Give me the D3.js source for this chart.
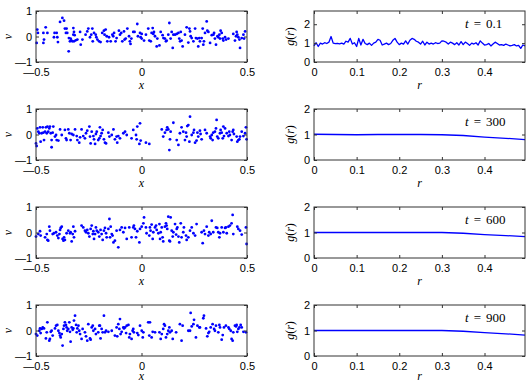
<!DOCTYPE html>
<html>
<head>
<meta charset="utf-8">
<script src="https://cdn.jsdelivr.net/npm/d3@7"></script>
<style>
  body { margin: 0; background: #fff; }
  .tick text { font-family: "Liberation Sans", Arial, sans-serif; font-size: 11px; fill: #000; }
  .tick line { stroke: #333; }
</style>
</head>
<body>
<div id="chart"></div>
<script>
// snapshot times, one row each
const times = ['0.1', '300', '600', '900'];

// tick values
const xTicks = [-0.5, 0, 0.5];
const vTicks = [-1, 0, 1];
const rTicks = [0, 0.1, 0.2, 0.3, 0.4];
const gTicks = [0, 1, 2];
const gMax = [2.7, 2, 2, 2];

// particle positions x and velocities v
const points1 = [
  [-0.494,0.27],[-0.491,0.14],[-0.497,-0.25],[-0.465,0.14],[-0.462,-0.12],[-0.454,0.36],[-0.465,-0.25],[-0.446,0.14],
  [-0.412,0.14],[-0.402,0.14],[-0.415,-0.03],[-0.399,-0.03],[-0.396,-0.22],[-0.386,0.57],[-0.375,0.73],[-0.367,0.62],
  [-0.363,0.31],[-0.355,0.31],[-0.358,0.14],[-0.352,0.14],[-0.344,-0.06],[-0.339,-0.19],[-0.336,-0.08],[-0.333,-0.15],
  [-0.345,-0.58],[-0.323,0.33],[-0.320,0.18],[-0.323,0.07],[-0.317,0.05],[-0.328,-0.19],[-0.320,-0.19],[-0.312,-0.15],
  [-0.304,-0.12],[-0.291,0.18],[-0.288,-0.32],[-0.280,-0.12],[-0.265,0.07],[-0.257,0.20],[-0.252,0.31],[-0.244,-0.03],
  [-0.238,0.07],[-0.233,0.31],[-0.231,-0.19],[-0.225,0.14],[-0.217,0.07],[-0.214,-0.03],[-0.209,-0.12],[-0.201,-0.19],
  [-0.194,-0.22],[-0.186,0.14],[-0.178,0.23],[-0.175,0.07],[-0.170,0.27],[-0.165,0.01],[-0.162,-0.19],[-0.154,-0.03],
  [-0.146,-0.19],[-0.138,0.07],[-0.134,0.01],[-0.130,0.14],[-0.123,-0.19],[-0.118,-0.06],[-0.107,0.23],[-0.102,0.07],
  [-0.096,0.14],[-0.091,-0.19],[-0.083,0.20],[-0.080,-0.12],[-0.075,-0.08],[-0.067,0.31],[-0.059,0.01],[-0.055,-0.19],
  [-0.052,-0.29],[-0.048,-0.08],[-0.039,0.18],[-0.033,0.18],[-0.020,0.49],[-0.017,0.01],[-0.007,0.14],[-0.004,-0.03],
  [0.001,0.10],[0.001,-0.08],[0.012,-0.16],[0.021,0.07],[0.032,0.31],[0.037,-0.16],[0.044,-0.19],[0.048,0.14],
  [0.053,0.33],[0.056,0.10],[0.059,0.18],[0.064,0.01],[0.072,-0.39],[0.075,-0.08],[0.085,-0.35],[0.091,0.18],
  [0.100,0.05],[0.104,-0.06],[0.111,-0.08],[0.116,-0.19],[0.119,-0.16],[0.127,0.07],[0.132,0.53],[0.138,-0.08],
  [0.143,0.18],[0.148,-0.45],[0.151,0.07],[0.159,0.07],[0.167,0.10],[0.175,0.14],[0.179,-0.08],[0.183,-0.19],
  [0.186,0.18],[0.190,-0.16],[0.195,-0.39],[0.206,0.07],[0.214,0.36],[0.222,-0.24],[0.227,0.31],[0.230,0.20],
  [0.233,0.01],[0.238,-0.06],[0.246,-0.19],[0.254,0.31],[0.258,-0.06],[0.265,-0.08],[0.269,-0.39],[0.274,-0.06],
  [0.277,-0.19],[0.285,-0.06],[0.290,0.31],[0.293,-0.32],[0.296,-0.19],[0.301,0.14],[0.309,0.59],[0.312,0.23],
  [0.317,0.18],[0.325,-0.25],[0.333,0.05],[0.341,0.07],[0.344,0.14],[0.348,-0.08],[0.353,-0.32],[0.360,0.01],
  [0.364,-0.03],[0.369,0.07],[0.372,-0.08],[0.375,0.23],[0.380,0.14],[0.385,-0.08],[0.388,-0.16],[0.396,-0.03],
  [0.401,-0.12],[0.412,-0.08],[0.435,0.10],[0.443,-0.16],[0.448,0.01],[0.451,0.18],[0.454,0.07],[0.459,-0.03],
  [0.464,-0.12],[0.467,-0.45],[0.475,-0.06],[0.483,0.07],[0.486,-0.08],[0.491,0.20]
];

const points2 = [
  [-0.500,-0.35],[-0.497,-0.45],[-0.494,0.24],[-0.489,0.11],[-0.484,0.05],[-0.481,0.28],[-0.478,-0.28],[-0.473,0.05],
  [-0.468,0.28],[-0.465,0.07],[-0.462,-0.22],[-0.457,0.11],[-0.453,0.28],[-0.449,0.05],[-0.446,0.31],[-0.442,0.11],
  [-0.437,0.24],[-0.434,0.31],[-0.430,0.05],[-0.426,-0.22],[-0.426,-0.50],[-0.421,0.07],[-0.418,0.31],[-0.410,-0.08],
  [-0.405,-0.02],[-0.402,-0.22],[-0.394,-0.24],[-0.386,0.20],[-0.378,-0.02],[-0.363,0.18],[-0.358,-0.15],[-0.355,-0.22],
  [-0.347,0.20],[-0.342,0.05],[-0.336,-0.22],[-0.331,0.02],[-0.323,-0.02],[-0.315,0.20],[-0.307,-0.06],[-0.304,-0.22],
  [-0.295,-0.32],[-0.291,-0.11],[-0.284,0.20],[-0.276,-0.06],[-0.268,-0.15],[-0.263,0.05],[-0.257,0.15],[-0.247,0.31],
  [-0.244,-0.08],[-0.241,-0.35],[-0.236,0.11],[-0.228,-0.06],[-0.225,-0.19],[-0.220,-0.37],[-0.216,0.02],[-0.212,0.11],
  [-0.205,-0.22],[-0.200,-0.15],[-0.197,0.28],[-0.194,-0.06],[-0.189,0.05],[-0.184,0.18],[-0.178,-0.19],[-0.173,-0.32],
  [-0.168,-0.35],[-0.157,0.07],[-0.152,-0.08],[-0.141,-0.02],[-0.133,0.20],[-0.126,-0.19],[-0.118,-0.08],[-0.115,-0.32],
  [-0.110,-0.06],[-0.102,-0.15],[-0.086,0.05],[-0.078,0.11],[-0.070,-0.02],[-0.047,-0.15],[-0.039,0.18],[-0.026,-0.02],
  [-0.023,-0.19],[-0.020,0.31],[-0.010,-0.37],[-0.007,0.44],[-0.004,-0.24],[0.021,-0.32],[0.037,-0.37],
  [0.096,0.20],[0.103,-0.08],[0.111,0.07],[0.119,0.18],[0.122,0.28],[0.127,0.20],[0.132,-0.61],[0.135,-0.19],
  [0.138,0.11],[0.151,0.46],[0.167,-0.22],[0.175,-0.41],[0.182,0.05],[0.190,0.28],[0.198,0.11],[0.206,-0.22],
  [0.211,0.07],[0.214,-0.08],[0.217,0.33],[0.222,0.37],[0.227,-0.28],[0.230,0.70],[0.238,-0.02],[0.246,0.07],
  [0.249,0.18],[0.254,-0.32],[0.261,-0.24],[0.265,0.07],[0.269,-0.08],[0.277,0.15],[0.280,0.02],[0.285,-0.19],
  [0.301,0.18],[0.309,0.05],[0.325,-0.08],[0.328,-0.15],[0.333,-0.02],[0.337,-0.22],[0.340,0.07],[0.348,0.11],
  [0.353,0.24],[0.356,0.57],[0.359,-0.08],[0.364,-0.15],[0.372,0.05],[0.375,0.18],[0.380,0.07],[0.385,-0.15],
  [0.388,0.31],[0.391,-0.06],[0.396,0.24],[0.404,0.05],[0.412,-0.06],[0.416,0.11],[0.419,-0.02],[0.427,-0.22],
  [0.432,0.11],[0.435,0.18],[0.438,0.02],[0.451,-0.08],[0.454,-0.28],[0.459,-0.22],[0.464,-0.19],[0.467,-0.08],
  [0.475,0.11],[0.483,-0.06],[0.491,0.05],[0.495,0.28],[0.498,-0.19]
];

const points3 = [
  [-0.500,-0.16],[-0.489,-0.06],[-0.481,0.05],[-0.478,-0.12],[-0.457,-0.19],[-0.449,-0.06],[-0.446,-0.29],[-0.442,-0.32],
  [-0.437,0.23],[-0.434,0.07],[-0.421,-0.06],[-0.415,-0.03],[-0.405,0.01],[-0.399,-0.12],[-0.394,-0.22],[-0.389,-0.06],
  [-0.386,0.10],[-0.383,0.18],[-0.378,0.23],[-0.374,-0.25],[-0.370,-0.32],[-0.367,-0.19],[-0.363,-0.29],[-0.355,-0.03],
  [-0.347,0.07],[-0.339,-0.03],[-0.336,0.01],[-0.331,-0.35],[-0.326,-0.06],[-0.323,0.23],[-0.320,-0.19],[-0.315,0.05],
  [-0.284,0.27],[-0.276,0.20],[-0.268,0.07],[-0.263,0.01],[-0.257,0.10],[-0.252,-0.03],[-0.247,-0.16],[-0.241,0.14],
  [-0.236,0.27],[-0.231,-0.06],[-0.228,0.05],[-0.225,-0.25],[-0.220,-0.06],[-0.216,0.20],[-0.212,0.07],[-0.205,0.01],
  [-0.200,-0.16],[-0.194,0.10],[-0.189,-0.06],[-0.184,-0.29],[-0.178,0.07],[-0.173,0.18],[-0.168,-0.03],[-0.165,-0.19],
  [-0.157,0.14],[-0.152,0.53],[-0.149,-0.19],[-0.146,0.23],[-0.141,-0.06],[-0.137,-0.12],[-0.133,-0.39],[-0.126,-0.32],
  [-0.118,0.07],[-0.110,-0.58],[-0.102,0.10],[-0.094,0.20],[-0.086,0.01],[-0.078,0.18],[-0.070,-0.25],[-0.058,0.20],
  [-0.047,-0.19],[-0.039,0.20],[-0.036,0.27],[-0.031,0.14],[-0.026,-0.19],[-0.020,0.05],[-0.010,-0.39],[-0.007,0.14],
  [0.001,0.23],[0.009,0.36],[0.012,0.59],[0.021,0.20],[0.024,-0.03],[0.037,-0.12],[0.040,0.20],[0.043,0.07],
  [0.048,0.31],[0.053,-0.25],[0.056,0.01],[0.064,0.20],[0.069,0.27],[0.072,0.10],[0.080,-0.03],[0.085,0.33],
  [0.088,-0.25],[0.091,0.01],[0.096,0.20],[0.100,-0.19],[0.103,-0.35],[0.111,0.23],[0.116,0.36],[0.119,0.27],
  [0.122,0.14],[0.127,0.62],[0.132,-0.32],[0.135,-0.35],[0.138,0.59],[0.143,0.07],[0.148,-0.16],[0.151,0.01],
  [0.159,0.33],[0.164,-0.08],[0.167,0.14],[0.170,0.20],[0.175,-0.16],[0.179,-0.39],[0.186,0.36],[0.190,-0.19],
  [0.198,0.01],[0.201,0.20],[0.211,-0.12],[0.214,-0.29],[0.222,-0.19],[0.230,0.07],[0.238,0.20],[0.246,-0.03],
  [0.254,-0.12],[0.261,0.33],[0.285,0.01],[0.290,-0.42],[0.296,0.07],[0.301,-0.06],[0.309,0.23],[0.317,-0.12],
  [0.321,0.01],[0.328,-0.06],[0.333,0.46],[0.340,0.01],[0.353,0.20],[0.359,0.18],[0.364,0.01],[0.369,-0.19],
  [0.372,-0.03],[0.380,0.20],[0.388,0.01],[0.396,0.18],[0.400,0.20],[0.404,-0.03],[0.412,0.23],[0.419,0.27],
  [0.427,0.36],[0.432,0.69],[0.435,-0.06],[0.454,0.23],[0.459,0.14],[0.467,0.07],[0.475,-0.08],[0.495,0.20],
  [0.498,-0.45]
];

const points4 = [
  [-0.500,-0.14],[-0.494,-0.20],[-0.484,-0.01],[-0.481,0.08],[-0.478,-0.10],[-0.473,0.06],[-0.468,0.12],[-0.462,0.08],
  [-0.453,-0.31],[-0.449,-0.07],[-0.446,0.32],[-0.437,-0.40],[-0.434,-0.33],[-0.430,-0.05],[-0.426,-0.01],[-0.421,-0.20],
  [-0.410,0.08],[-0.405,0.19],[-0.399,0.22],[-0.394,-0.01],[-0.389,-0.10],[-0.386,-0.20],[-0.383,-0.27],[-0.378,-0.14],
  [-0.374,-0.59],[-0.370,0.06],[-0.367,0.19],[-0.363,0.32],[-0.358,0.22],[-0.355,0.12],[-0.352,-0.01],[-0.347,0.06],
  [-0.342,0.32],[-0.339,-0.05],[-0.336,-0.44],[-0.331,0.12],[-0.326,0.03],[-0.323,0.08],[-0.320,0.39],[-0.315,0.58],
  [-0.310,0.22],[-0.307,-0.07],[-0.304,0.08],[-0.299,0.19],[-0.295,-0.01],[-0.291,-0.14],[-0.284,-0.33],[-0.279,0.06],
  [-0.268,-0.07],[-0.263,-0.23],[-0.257,-0.40],[-0.252,0.25],[-0.244,-0.31],[-0.241,-0.36],[-0.236,0.12],[-0.231,0.19],
  [-0.228,-0.01],[-0.220,0.06],[-0.216,-0.14],[-0.205,-0.07],[-0.200,0.19],[-0.197,0.19],[-0.194,-0.31],[-0.189,0.06],
  [-0.184,-0.07],[-0.178,0.58],[-0.173,-0.07],[-0.168,-0.01],[-0.157,-0.05],[-0.141,-0.01],[-0.126,-0.20],[-0.118,0.12],
  [-0.115,-0.23],[-0.110,0.25],[-0.105,0.06],[-0.102,0.45],[-0.099,-0.14],[-0.094,-0.05],[-0.086,0.12],[-0.083,0.08],
  [-0.078,0.12],[-0.073,-0.10],[-0.070,0.19],[-0.062,0.22],[-0.058,-0.27],[-0.055,-0.14],[-0.047,-0.33],[-0.042,-0.01],
  [-0.039,0.06],[-0.036,-0.07],[-0.020,-0.10],[-0.015,-0.18],[-0.007,0.19],[0.001,-0.01],[0.006,-0.27],[0.009,-0.07],
  [0.032,0.32],[0.037,-0.20],[0.040,0.32],[0.048,-0.27],[0.053,-0.05],[0.064,-0.07],[0.085,-0.07],[0.091,-0.33],
  [0.096,-0.14],[0.103,0.06],[0.107,0.25],[0.111,0.19],[0.116,-0.27],[0.122,-0.14],[0.127,-0.01],[0.132,0.12],
  [0.135,-0.07],[0.143,-0.01],[0.148,-0.33],[0.164,-0.07],[0.182,0.25],[0.190,-0.40],[0.195,0.19],[0.222,-0.01],
  [0.230,-0.01],[0.233,0.69],[0.238,0.16],[0.246,0.25],[0.249,0.42],[0.258,-0.27],[0.265,0.19],[0.274,0.12],
  [0.277,0.12],[0.293,0.48],[0.296,0.58],[0.306,0.08],[0.312,-0.23],[0.317,-0.10],[0.321,-0.05],[0.328,0.12],
  [0.337,0.25],[0.344,0.06],[0.348,-0.01],[0.353,0.19],[0.364,-0.07],[0.369,0.22],[0.372,0.12],[0.380,-0.36],
  [0.385,-0.18],[0.391,0.12],[0.400,0.19],[0.412,0.12],[0.416,0.06],[0.423,-0.01],[0.427,-0.33],[0.432,-0.40],
  [0.435,-0.07],[0.443,0.19],[0.448,0.16],[0.451,0.22],[0.454,-0.05],[0.459,0.06],[0.464,0.12],[0.470,0.22],
  [0.475,0.12],[0.483,-0.05],[0.495,-0.07]
];

// pair correlation g(r); t = 0.1 is sampled every 0.005 in r
const rFine = d3.range(100).map(i => i * 0.005);
const gEarly = [
  0.85,1.02,0.82,1.00,0.95,1.02,0.98,1.05,1.35,1.00,
  0.97,0.99,0.96,1.00,0.95,1.10,1.05,1.25,0.95,1.02,
  0.82,1.25,0.90,1.20,0.98,0.92,1.00,0.88,1.00,1.05,
  1.20,1.15,0.90,0.95,1.00,0.92,0.98,1.15,1.25,1.05,
  0.92,1.00,0.95,1.12,0.95,1.15,1.25,1.20,1.10,1.05,
  0.95,1.10,0.90,1.05,0.95,1.00,0.95,1.02,0.98,1.00,
  1.12,1.10,1.05,0.95,1.05,1.00,0.92,1.02,0.90,1.08,
  0.92,1.05,0.98,0.88,1.00,0.95,1.02,0.90,1.12,1.00,
  0.90,0.92,0.98,0.85,0.95,1.05,0.98,0.90,0.92,0.88,
  0.95,0.90,0.85,0.88,0.92,0.85,0.88,0.72,0.90,0.85
];
const rCoarse = [0, 0.05, 0.1, 0.15, 0.2, 0.25, 0.3, 0.35, 0.4, 0.45, 0.495];
const g300 = [1.01, 1.0, 0.99, 1.0, 1.0, 1.0, 0.99, 0.96, 0.9, 0.85, 0.8];
const g600 = [1.0, 1.0, 1.0, 1.0, 1.0, 1.0, 1.0, 0.97, 0.92, 0.88, 0.84];
const g900 = [1.0, 1.0, 1.0, 1.0, 1.0, 1.0, 1.0, 0.97, 0.92, 0.87, 0.82];

const scatterSets = [points1, points2, points3, points4];
const profileSets = [
  { r: rFine, g: gEarly },
  { r: rCoarse, g: g300 },
  { r: rCoarse, g: g600 },
  { r: rCoarse, g: g900 }
];

const width = 530;
const height = 384;
const blue = '#0000ff';
const serif = '"Liberation Serif", "DejaVu Serif", serif';
// MATLAB-style labels with a long minus
const fmt = d => d3.format('')(d).replace('\u2212', '\u2014');

const svg = d3.select('#chart')
  .append('svg')
  .attr('width', width)
  .attr('height', height);

function label(x, y, rotate) {
  return svg.append('text')
    .attr('transform', `translate(${x}, ${y})` + (rotate ? ' rotate(-90)' : ''))
    .attr('text-anchor', 'middle')
    .style('font-family', serif)
    .style('font-size', '12px')
    .attr('fill', '#000');
}

// x labels sit under the tick labels; the last row is kept inside the page
function xLabelY(bottom) {
  return Math.min(bottom + 27, height - 4);
}

function drawFrame(xScale, yScale, xVals, yVals) {
  const [left, right] = xScale.range();
  const [bottom, top] = yScale.range();
  const frame = svg.append('g');

  frame.append('g')
    .attr('transform', `translate(0, ${bottom})`)
    .call(d3.axisBottom(xScale).tickValues(xVals).tickFormat(fmt)
      .tickSizeInner(-3).tickSizeOuter(0).tickPadding(6));
  frame.append('g')
    .attr('transform', `translate(0, ${top})`)
    .call(d3.axisTop(xScale).tickValues(xVals).tickFormat('')
      .tickSizeInner(-3).tickSizeOuter(0));
  frame.append('g')
    .attr('transform', `translate(${left}, 0)`)
    .call(d3.axisLeft(yScale).tickValues(yVals).tickFormat(fmt)
      .tickSizeInner(-3).tickSizeOuter(0).tickPadding(4));
  frame.append('g')
    .attr('transform', `translate(${right}, 0)`)
    .call(d3.axisRight(yScale).tickValues(yVals).tickFormat('')
      .tickSizeInner(-3).tickSizeOuter(0));

  frame.selectAll('.domain').remove();

  frame.append('rect')
    .attr('x', left)
    .attr('y', top)
    .attr('width', right - left)
    .attr('height', bottom - top)
    .attr('fill', 'none')
    .attr('stroke', '#333')
    .attr('stroke-width', 1);
}

function drawScatter(points, top, bottom) {
  const x = d3.scaleLinear().domain([-0.5, 0.5]).range([36, 247]);
  const y = d3.scaleLinear().domain([-1, 1]).range([bottom, top]);

  svg.append('g')
    .selectAll('circle')
    .data(points)
    .enter()
    .append('circle')
    .attr('cx', d => x(d[0]))
    .attr('cy', d => y(d[1]))
    .attr('r', 1.4)
    .attr('fill', blue);

  drawFrame(x, y, xTicks, vTicks);

  label((36 + 247) / 2, xLabelY(bottom)).style('font-style', 'italic').text('x');
  label(12, (top + bottom) / 2, true).style('font-style', 'italic').text('v');
}

function drawProfile(profile, yMax, time, top, bottom) {
  const x = d3.scaleLinear().domain([0, 0.495]).range([314, 525]);
  const y = d3.scaleLinear().domain([0, yMax]).range([bottom, top]);

  const line = d3.line()
    .x((d, i) => x(profile.r[i]))
    .y(d => y(d));

  svg.append('path')
    .datum(profile.g)
    .attr('d', line)
    .attr('fill', 'none')
    .attr('stroke', blue)
    .attr('stroke-width', 1.3)
    .attr('stroke-linejoin', 'round');

  drawFrame(x, y, rTicks, gTicks);

  label((314 + 525) / 2, xLabelY(bottom)).style('font-style', 'italic').text('r');

  const gLabel = label(294, (top + bottom) / 2, true);
  gLabel.append('tspan').style('font-style', 'italic').text('g');
  gLabel.append('tspan').text('(');
  gLabel.append('tspan').style('font-style', 'italic').text('r');
  gLabel.append('tspan').text(')');

  const tLabel = label(465, top + 17).attr('text-anchor', 'start').style('font-size', '13px');
  tLabel.append('tspan').style('font-style', 'italic').text('t');
  tLabel.append('tspan').attr('dx', 5).text('=');
  tLabel.append('tspan').attr('dx', 5).text(time);
}

times.forEach((time, i) => {
  const top = 11 + i * 98;
  const bottom = top + 51;
  drawScatter(scatterSets[i], top, bottom);
  drawProfile(profileSets[i], gMax[i], time, top, bottom);
});
</script>
</body>
</html>
